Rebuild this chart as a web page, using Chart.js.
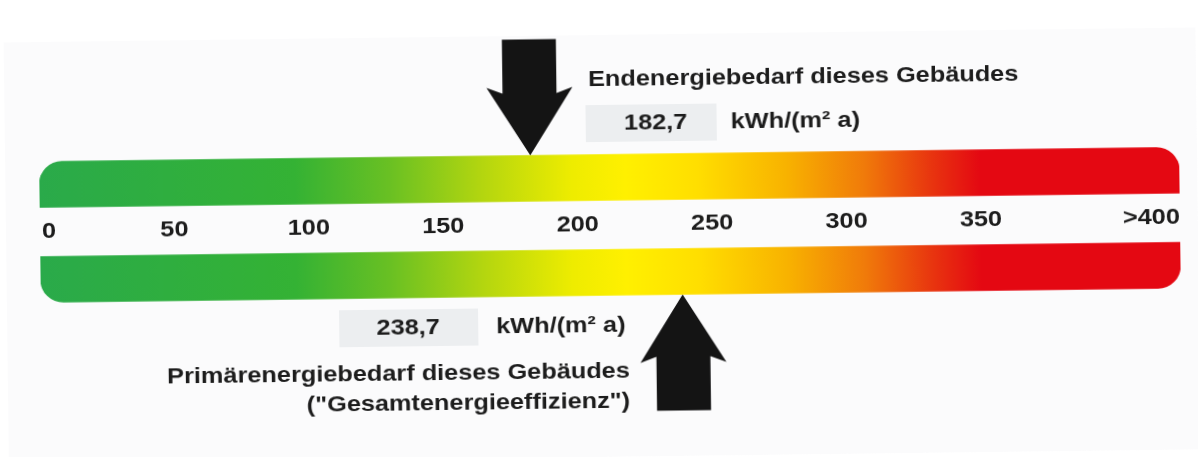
<!DOCTYPE html>
<html>
<head>
<meta charset="utf-8">
<script src="https://cdn.jsdelivr.net/npm/chart.js@4"></script>
<style>
    html, body { margin: 0; padding: 0; background: #ffffff; }
    #scale { display: block; transform: rotate(-0.72deg); transform-origin: 50% 50%; }
</style>
</head>
<body>
<canvas id="scale" width="1198" height="457"></canvas>
<script>
// data
const categories = ["Endenergiebedarf", "Primärenergiebedarf"]
const barRange = [0, 424]
const tickValues = [0, 50, 100, 150, 200, 250, 300, 350, 424]
const tickLabels = ["0", "50", "100", "150", "200", "250", "300", "350", ">400"]
const markerValues = [182.7, 238.7]
const markerLabels = ["182,7", "238,7"]
const unitLabel = "kWh/(m² a)"
const endCaption = "Endenergiebedarf dieses Gebäudes"
const primCaption = ["Primärenergiebedarf dieses Gebäudes", "(\"Gesamtenergieeffizienz\")"]

// styles
const gradientStops = [
    [0, "rgb(42,170,74)"],
    [95, "rgb(52,178,52)"],
    [130, "rgb(105,192,35)"],
    [165, "rgb(180,214,15)"],
    [198, "rgb(238,236,0)"],
    [218, "rgb(255,240,0)"],
    [245, "rgb(255,222,0)"],
    [278, "rgb(248,178,0)"],
    [307, "rgb(240,122,10)"],
    [332, "rgb(232,52,15)"],
    [350, "rgb(228,8,18)"],
    [424, "rgb(228,8,18)"]
]
const textColor = "#1c1c1c"
const fontFamily = "'Liberation Sans', Arial, sans-serif"
const stretch = 1.15

const makeGradient = (context) => {
    const chart = context.chart
    const { ctx, chartArea, scales } = chart
    if (!chartArea) return gradientStops[0][1]
    const x0 = scales.x.getPixelForValue(barRange[0])
    const x1 = scales.x.getPixelForValue(barRange[1])
    const g = ctx.createLinearGradient(x0, 0, x1, 0)
    gradientStops.forEach(([v, c]) => {
        g.addColorStop((v - barRange[0]) / (barRange[1] - barRange[0]), c)
    })
    return g
}

const drawText = (ctx, text, x, y, align) => {
    ctx.save()
    ctx.translate(x, y)
    ctx.scale(stretch, 1)
    ctx.textAlign = align
    ctx.textBaseline = "middle"
    ctx.fillText(text, 0, 0)
    ctx.restore()
}

// arrow: tip at (x, y), dir = 1 points down, -1 points up
const drawArrow = (ctx, x, y, dir) => {
    const shaft = 27, wing = 43, neck = 62, wingY = 68, len = 116
    ctx.beginPath()
    ctx.moveTo(x, y)
    ctx.lineTo(x - wing, y - dir * wingY)
    ctx.lineTo(x - shaft, y - dir * neck)
    ctx.lineTo(x - shaft, y - dir * len)
    ctx.lineTo(x + shaft, y - dir * len)
    ctx.lineTo(x + shaft, y - dir * neck)
    ctx.lineTo(x + wing, y - dir * wingY)
    ctx.closePath()
    ctx.fillStyle = "#141414"
    ctx.fill()
}

const backdrop = {
    id: "backdrop",
    beforeDraw(chart) {
        const ctx = chart.ctx
        ctx.save()
        ctx.fillStyle = "#ffffff"
        ctx.fillRect(0, 0, chart.width, chart.height)
        ctx.fillStyle = "#fbfbfc"
        ctx.fillRect(6, 35, chart.width - 6, chart.height - 35)
        ctx.restore()
    }
}

const annotations = {
    id: "annotations",
    afterDraw(chart) {
        const ctx = chart.ctx
        const xs = chart.scales.x
        const bars = chart.getDatasetMeta(0).data
        const topBarTop = bars[0].y - bars[0].height / 2
        const topBarBottom = bars[0].y + bars[0].height / 2
        const lowBarTop = bars[1].y - bars[1].height / 2
        const lowBarBottom = bars[1].y + bars[1].height / 2
        const midY = (topBarBottom + lowBarTop) / 2

        ctx.save()
        ctx.fillStyle = textColor
        ctx.font = "bold 22px " + fontFamily

        // tick labels between the bars
        tickValues.forEach((v, i) => {
            const px = xs.getPixelForValue(v)
            let align = "center"
            if (i === 0) align = "left"
            if (i === tickValues.length - 1) align = "right"
            drawText(ctx, tickLabels[i], px + (i === 0 ? 2 : 0), midY, align)
        })

        // arrows
        const xEnd = xs.getPixelForValue(markerValues[0])
        const xPrim = xs.getPixelForValue(markerValues[1])
        drawArrow(ctx, xEnd, topBarTop, 1)
        drawArrow(ctx, xPrim, lowBarBottom, -1)

        // value boxes
        ctx.fillStyle = "#eceef0"
        ctx.fillRect(587, 105, 131, 37)
        ctx.fillRect(338, 307, 139, 37)

        ctx.fillStyle = textColor
        drawText(ctx, endCaption, 590, 80, "left")
        drawText(ctx, markerLabels[0], 657, 124, "center")
        drawText(ctx, unitLabel, 732, 124, "left")

        drawText(ctx, markerLabels[1], 407, 326, "center")
        drawText(ctx, unitLabel, 495, 326, "left")
        drawText(ctx, primCaption[0], 628, 372, "right")
        drawText(ctx, primCaption[1], 628, 402, "right")
        ctx.restore()
    }
}

const config = {
    type: "bar",
    data: {
        labels: categories,
        datasets: [{
            data: [barRange, barRange],
            backgroundColor: makeGradient,
            borderSkipped: false,
            borderWidth: 0,
            barThickness: 46,
            borderRadius: (context) => context.dataIndex === 0
                ? { topLeft: 30, topRight: 30, bottomLeft: 0, bottomRight: 0 }
                : { topLeft: 0, topRight: 0, bottomLeft: 30, bottomRight: 30 }
        }]
    },
    options: {
        indexAxis: "y",
        responsive: false,
        animation: false,
        devicePixelRatio: 1,
        layout: { padding: { left: 40, right: 18, top: 130, bottom: 137 } },
        scales: {
            x: { type: "linear", min: barRange[0], max: barRange[1], display: false },
            y: { display: false }
        },
        plugins: {
            legend: { display: false },
            tooltip: { enabled: false }
        }
    },
    plugins: [backdrop, annotations]
}

new Chart(document.querySelector("#scale"), config)
</script>
</body>
</html>
